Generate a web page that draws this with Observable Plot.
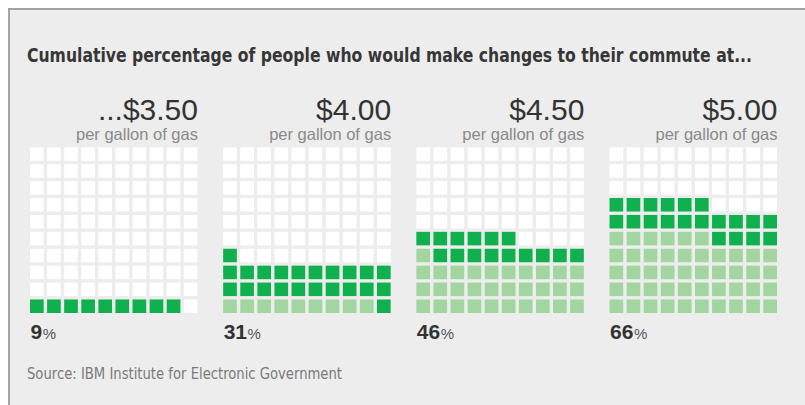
<!DOCTYPE html>
<html>
<head>
<meta charset="utf-8">
<script src="https://cdn.jsdelivr.net/npm/d3@7"></script>
<script src="https://cdn.jsdelivr.net/npm/@observablehq/plot@0.6"></script>
<style>
  html, body { margin: 0; padding: 0; background: #ffffff; }
  #frame {
    position: absolute; left: 8px; top: 8px; width: 797px; height: 397px;
    background: #ededed; border-top: 2px solid #a3a3a3; border-left: 2px solid #a3a3a3;
    box-sizing: border-box;
  }
  #title {
    position: absolute; left: 27px; top: 45px; white-space: nowrap; transform-origin: 0 0;
    font-family: "DejaVu Sans Condensed", "DejaVu Sans", sans-serif;
    font-stretch: condensed; font-weight: bold; font-size: 20px; line-height: 1; color: #363636;
  }
  #source {
    position: absolute; left: 27px; top: 367px; white-space: nowrap; transform-origin: 0 0;
    font-family: "DejaVu Sans Condensed", "DejaVu Sans", sans-serif;
    font-stretch: condensed; font-size: 15px; line-height: 1; color: #7a7a7a;
  }
  #chart { position: absolute; left: 0; top: 80px; }
</style>
</head>
<body>
<div id="frame"></div>
<div id="title">Cumulative percentage of people who would make changes to their commute at...</div>
<div id="chart"></div>
<div id="source">Source: IBM Institute for Electronic Government</div>
<script>
const prices = ["...$3.50", "$4.00", "$4.50", "$5.00"];
const subtitle = "per gallon of gas";
const percents = [9, 31, 46, 66];
const statuses = ["empty", "prev", "new"];
const statusColors = ["#ffffff", "#a2d59f", "#10b04e"];

const panels = prices.map((price, i) => ({panel: i, price, pct: percents[i]}));
const cells = [];
percents.forEach((v, p) => {
  const prev = p ? percents[p - 1] : 0;
  for (let i = 0; i < 100; i++) {
    cells.push({panel: p, col: i % 10, row: Math.floor(i / 10),
      status: i < prev ? "prev" : i < v ? "new" : "empty"});
  }
});

const chart = Plot.plot({
  width: 805, height: 270,
  marginLeft: 30, marginRight: 28, marginTop: 67.3, marginBottom: 37,
  style: {background: "transparent", overflow: "visible"},
  fx: {domain: [0, 1, 2, 3], paddingInner: 0.133, paddingOuter: 0, round: false, axis: null, label: null},
  x: {domain: d3.range(10), paddingInner: 0.2, paddingOuter: 0, round: false, axis: null},
  y: {domain: d3.range(9, -1, -1), paddingInner: 0.2, paddingOuter: 0, round: false, axis: null},
  color: {domain: statuses, range: statusColors},
  marks: [
    Plot.cell(cells, {fx: "panel", x: "col", y: "row", fill: "status"}),
    Plot.text(panels, {fx: "panel", text: "price", frameAnchor: "top-right", lineAnchor: "bottom",
      dy: -28.3, fontSize: 30, fill: "#333333", fontFamily: "Liberation Sans, Arial, sans-serif"}),
    Plot.text(panels, {fx: "panel", text: () => subtitle, frameAnchor: "top-right", lineAnchor: "bottom",
      dy: -7.8, fontSize: 16.5, fill: "#8a8a8a", fontFamily: "Liberation Sans, Arial, sans-serif"}),
    Plot.text(panels, {fx: "panel", text: d => String(d.pct), frameAnchor: "bottom-left", lineAnchor: "bottom",
      dy: 25.5, fontSize: 21, fontWeight: "bold", fill: "#333333", fontFamily: "Liberation Sans, Arial, sans-serif"})
  ]
});

d3.select(chart).selectAll("text")
  .filter(function() { return /^\d+$/.test(this.textContent); })
  .append("tspan").attr("font-size", 15).attr("font-weight", "normal").attr("fill", "#555")
  .attr("dx", 0.5).text("%");

document.getElementById("chart").appendChild(chart);

function fitWidth(id, target) {
  const el = document.getElementById(id);
  const w = el.getBoundingClientRect().width;
  el.style.transform = `scaleX(${target / w})`;
}
fitWidth("title", 725);
fitWidth("source", 315);
</script>
</body>
</html>
